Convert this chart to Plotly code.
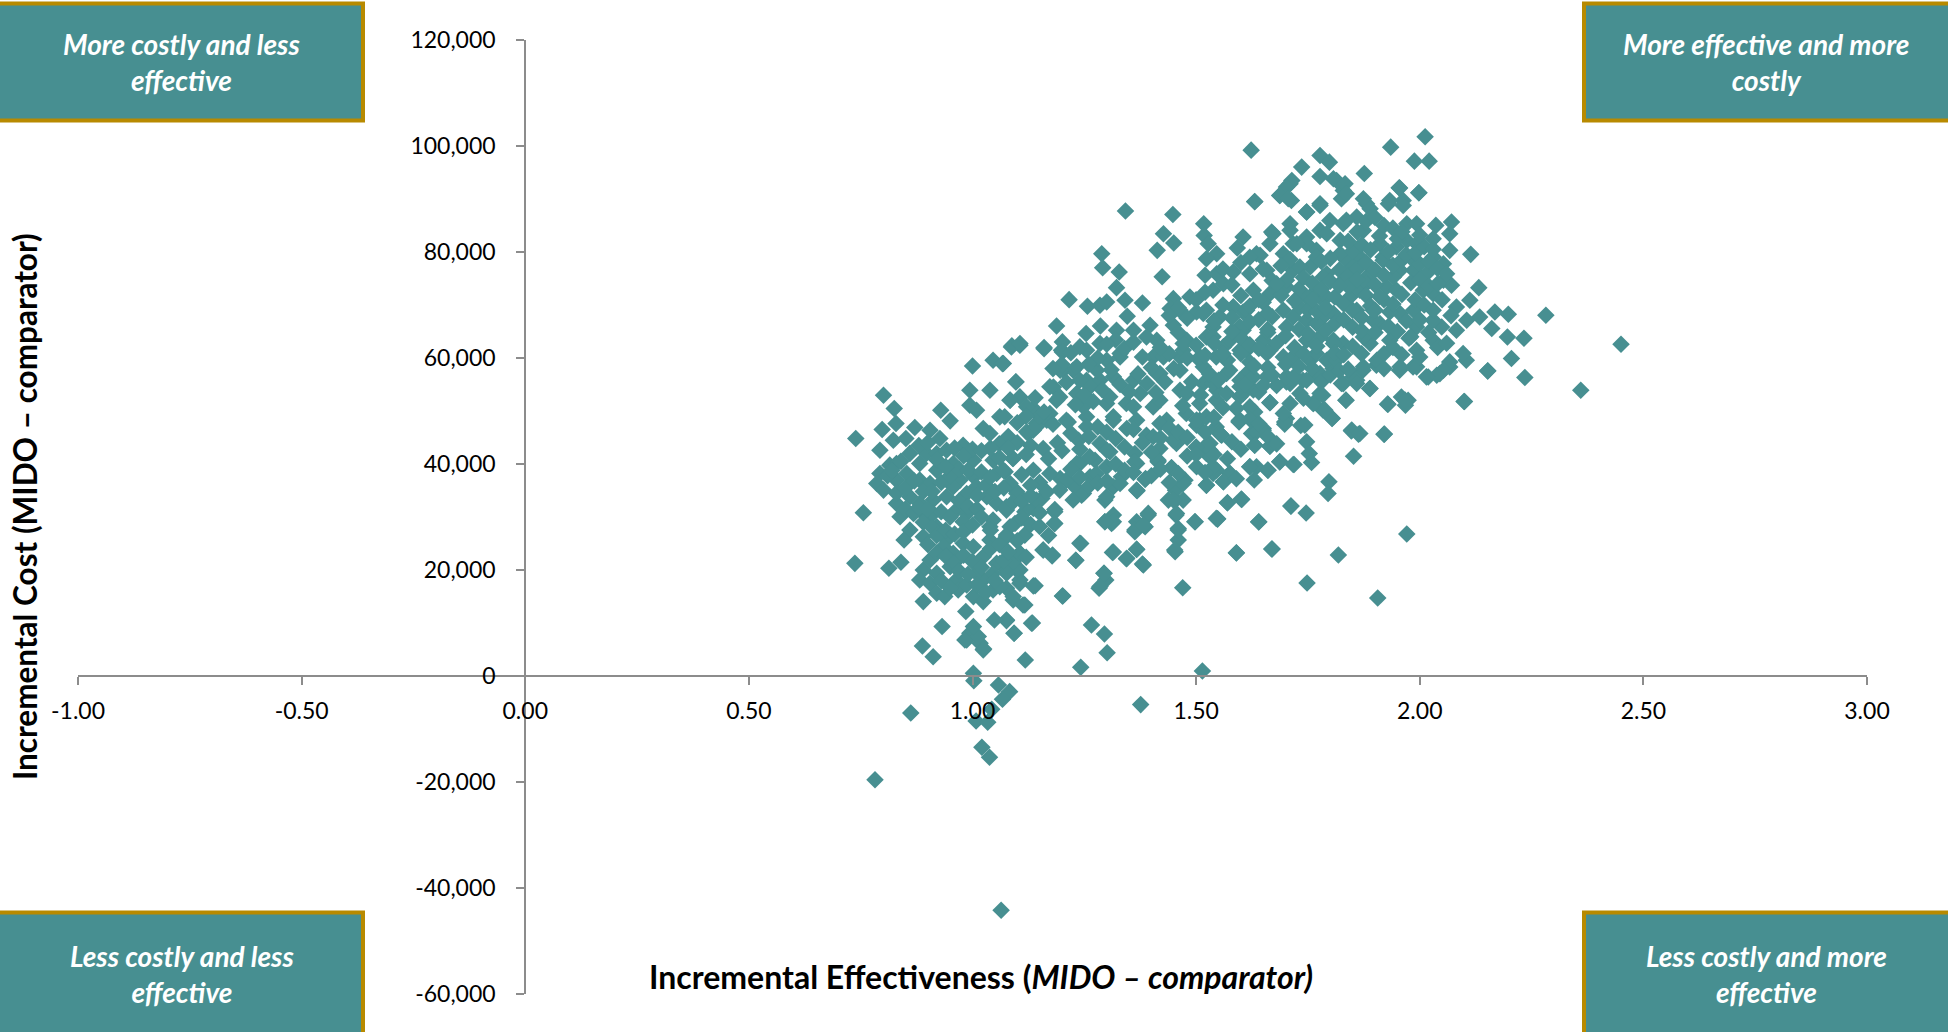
import plotly.graph_objects as go

# (incremental effectiveness, incremental cost), by region
draws_lowest = [
(.782,-19590),(.862,-6967),(.888,5656),(.912,3646),(1.002,506),(1.003,-875),(1.058,-1692),(1.083,-2950),
(1.067,-4392),(1.043,-6277),(1.008,-8474),(1.034,-8725),(1.021,-13436),(1.038,-15320),(1.064,-44208),
(1.118,3018),(1.242,1636),(1.301,4400),(1.376,-5397),(1.514,946),(1.025,5090),(.987,6786),(1.017,6158),
(1.266,9634),(1.295,7938),(1.134,10011),(1.093,8064),(1.076,10450),(1.202,15098),(1.470,16668),
(1.117,13402),(1.091,14344),(1.140,17044),(1.106,17484),(1.076,16542),(1.106,20000),(1.091,21252),
(1.106,23136),(1.0615,21252),(1.283,16542),(1.298,18112),(1.294,19367),(1.231,21817),(1.345,22194),
(1.367,23890),(1.382,20938),(1.313,23325),(1.179,22822),(1.158,23764),(1.242,25000),(1.453,23450),
(1.590,23262),(1.670,23952),(1.117,26590),(1.095,28788),(1.076,26590),(1.184,28788),(1.184,31425),
(1.296,29100),(1.315,30358),(1.311,28788),(1.363,27218),(1.386,28160),(1.367,29100),(1.393,30358),
(1.460,27845),(1.460,25648),(1.498,29100),(1.548,29604),(1.640,29100),(1.455,30358),
]
draws_centre_low = [
(1.454,33184),(1.438,33184),(1.471,33184),(1.454,35068),(1.475,36952),(1.570,32682),(1.602,33310),
(1.712,32054),(1.523,36010),(1.561,36638),(1.576,38208),(1.546,38836),(1.501,39464),(1.523,41976),
(1.531,43860),(1.557,45430),(1.620,39464),(1.635,39464),(1.661,38836),(1.687,40406),(1.717,39904),
(1.665,43358),(1.631,43546),(1.624,45744),(1.650,46372),(1.698,47500),(1.596,47942),(1.501,47314),
(1.445,39276),(1.415,40406),(1.367,40092),(1.386,37078),(1.368,34942),(1.333,37580),(1.315,35696),
(1.296,33184),(1.244,34126),(1.229,35696),(1.196,37266),(1.263,37580),(1.300,39464),(1.274,40720),
(1.240,40092),(1.307,42290),(1.285,43860),(1.237,44488),(1.214,47942),(1.136,46372),(1.125,45744),
(1.158,42918),(1.136,38836),(1.091,41034),(1.073,38522),(1.099,34754),(1.155,33498),(1.117,30986),
(1.136,31614),(1.076,31300),(1.084,28160),(1.345,46686),(1.389,45430),(1.456,43860),(1.419,42918),
(1.363,41976),
]
draws_left = [
(.801,52974),(.825,50462),(.929,50148),(.950,48140),(.739,44810),(.798,46506),(.829,47636),(.871,46882),
(.905,46380),(.927,44810),(.823,44496),(.851,44810),(.793,42612),(.815,39786),(.793,38216),(.786,36332),
(.801,35076),(.830,40100),(.853,38216),(.830,36960),(.897,41984),(.882,40100),(.920,41984),(.942,42612),
(.920,38844),(.882,36960),(.905,36332),(.957,40100),(.979,43554),(1.002,40728),(1.003,37588),(.972,36960),
(.957,35704),(.942,33820),(.830,32564),(.756,30806),(.860,33820),(.882,32564),(.912,33192),(.838,30052),
(.868,30680),(.897,30052),(.860,27540),(.890,26284),(.847,25656),(.920,28168),(.942,25656),(.912,30680),
(.964,31308),(.987,30680),(.979,29110),(.935,24400),(.957,23144),(.979,25028),(1.002,24400),(1.024,22514),
(1.054,21252),(.737,21252),(.813,20318),(.840,21448),(.890,20004),(.905,21884),(.920,19376),(.882,18120),
(.905,17492),(.950,20632),(.964,18120),(.920,15608),(.938,14980),(.890,14038),(.968,16236),(.987,17176),
(.985,12154),(1.002,14980),(1.024,14038),(1.046,16236),(1.061,16864),(1.091,14980),(1.113,13408),
(1.136,17000),(1.106,18120),(1.099,20004),(1.091,21574),(1.106,23144),(1.024,18120),(1.076,19376),
(1.009,19376),(1.046,19376),(1.032,33820),(1.054,32564),(1.046,29424),(1.039,25656),(1.076,26284),
(1.117,26598),(1.039,28168),(1.009,35704),(.987,34448),(1.099,34448),(1.084,36332),(1.054,38216),
(1.046,40728),(1.090,41042),(1.069,38844),(1.076,31936),(1.121,31308),(1.143,33192),(1.166,34762),
(1.184,30994),(1.183,28796),(1.158,23772),(1.178,22642),(1.231,21826),(1.240,25028),(1.315,23392),
(1.344,22130),(1.367,23898),(1.380,21134),(1.294,19376),(1.285,16864),(1.201,15106),(1.132,9956),
(1.076,10582),(1.049,10582),(1.093,8073),(.932,9328),(.994,8072),(.983,6816),(1.013,7444),(1.024,4932),
(1.002,9328),(1.173,38216),(1.210,36960),(1.195,35076),(1.225,33192),(1.248,34448),(1.277,38216),
(1.233,40100),(1.262,41352),(1.300,42612),(1.330,36332),(1.300,33820),(1.367,35076),(1.387,37274),
(1.363,40414),(1.415,40728),(1.445,39284),(1.471,36332),(1.449,33192),(1.456,30680),(1.497,29110),
(1.545,29738),(1.460,27540),(1.452,23772),(1.315,29110),(1.296,29110),(1.393,30680),(1.363,27540),
(1.382,28480),
]
draws_left_upper = [
(1.000,58500),(1.046,59568),(1.067,58940),(1.087,62080),(1.106,62394),(1.160,61766),(1.199,61452),
(.994,53916),(1.039,53916),(1.097,55486),(.994,51090),(1.009,50148),(1.084,52032),(1.106,52660),
(1.136,50462),(1.061,48892),(1.024,46694),(1.039,45752),(1.121,46066),(1.143,47636),(1.166,48264),
(1.181,54544),(1.203,57684),(1.225,57684),(1.255,55800),(1.195,52660),(1.248,52660),(1.210,48264),
(1.255,48892),(1.285,55800),(1.300,59568),(1.330,60196),(1.255,61452),(1.300,51404),(1.315,48892),
(1.344,51404),(1.367,48264),(1.404,50776),(1.434,48264),(1.404,45124),(1.449,44496),(1.478,49520),
(1.508,48264),(1.545,52032),(1.516,55172),(1.464,53916),(1.419,57056),(1.404,60196),(1.464,60196),
(1.508,59568),(1.545,60196),(1.531,42612),(1.538,38216),(1.545,47000),
]
draws_middle = [
(1.342,87718),(1.448,87090),(1.631,89540),(1.517,85332),(1.687,90670),(1.713,89728),(1.710,92868),
(1.427,83448),(1.450,81690),(1.413,80308),(1.289,79680),(1.291,77042),(1.328,76226),(1.424,75347),
(1.518,83134),(1.527,81564),(1.546,79680),(1.523,78738),(1.605,82820),(1.592,80748),(1.669,83762),
(1.643,79366),(1.665,81564),(1.710,85332),(1.695,79680),(1.717,81564),(1.322,73274),(1.216,71014),
(1.257,69758),(1.285,69946),(1.300,70574),(1.341,70888),(1.380,70386),(1.346,67874),(1.449,71202),
(1.486,71516),(1.442,69318),(1.464,68988),(1.520,75598),(1.546,75912),(1.583,76226),(1.620,75912),
(1.538,72772),(1.561,74028),(1.628,72772),(1.665,72144),(1.702,73400),(1.717,76540),(1.188,66052),
(1.286,66052),(1.397,66178),(1.449,66178),(1.501,68690),(1.523,69004),(1.583,69632),(1.605,68690),
(1.695,69004),(1.717,67748),(1.088,62284),(1.106,62724),(1.160,61970),(1.201,63038),(1.201,61154),
(1.254,64608),(1.322,65236),(1.360,65236),(1.412,63352),(1.479,63352),(1.538,65864),(1.605,65236),
(1.650,63352),(1.702,65864),(1.240,62096),(1.285,62724),(1.330,60840),(1.389,63980),(1.427,60212),
(1.471,61468),(1.523,63980),(1.561,62096),(1.598,61468),(1.658,60840),(1.695,60212),(1.069,58956),
(1.097,55502),(1.196,57700),(1.233,58328),(1.278,57700),(1.315,56444),(1.173,54560),(1.233,53304),
(1.263,54560),(1.360,55816),(1.412,57072),(1.464,57700),(1.516,58328),(1.568,57072),(1.613,57072),
(1.710,55186),(1.084,52048),(1.121,50792),(1.188,52048),(1.072,48908),(1.143,47024),(1.173,49536),
(1.248,50792),(1.255,47024),(1.307,52676),(1.315,48280),(1.360,50792),(1.375,53304),(1.419,52048),
(1.419,47652),(1.479,53304),(1.501,48280),(1.546,53932),(1.598,52676),(1.598,48280),(1.665,51546),
(1.635,46396),(1.702,48594),(1.553,45768),
]
draws_lower_right = [
(2.152,57556),(2.099,51779),(1.835,52030),(1.929,51276),(1.959,52658),(1.974,52030),(1.968,51088),
(1.847,46252),(1.863,45624),(1.920,45624),(1.852,41480),(1.804,48639),(1.734,47257),(1.698,47948),
(1.747,44180),(1.753,41982),(1.758,40286),(1.719,39910),(1.687,40412),(1.660,38842),(1.620,39470),
(1.797,36644),(1.795,34446),(1.712,32060),(1.746,30740),(1.601,33378),(1.570,32688),(1.548,29673),
(1.640,29045),(1.971,26784),(1.590,23205),(1.669,23958),(1.818,22828),(1.748,17553),(1.906,14727),
(1.596,48136),(1.555,45562),(1.665,51590),(1.631,49832),(1.702,55484),(1.635,46064),(1.650,46692),
(1.665,43364),(1.631,43552),(1.783,52972),(1.762,51402),(1.784,50146),(1.732,53286),(1.710,51402),
(1.695,49518),(1.739,55798),(1.769,57054),(1.806,57996),(1.829,55170),(1.859,55798),(1.888,54228),
(1.873,57682),(1.903,58624),(1.955,57682),(1.985,58310),(2.019,56426),(2.045,57054),(2.067,58310),
(2.104,59566),(1.575,38214),(1.561,36644),(1.523,36016),(1.531,41354),(1.523,43552),(1.538,39470),
(1.628,56426),(1.605,53286),(1.598,55798),(1.568,53286),(1.538,55170),(1.575,57682),(1.620,50774),
(1.523,48890),(1.508,51402),
]
draws_right = [
(2.360,53932),(2.282,68062),(2.114,79554),(2.132,73274),(2.198,68250),(2.168,68690),(2.233,63729),
(2.196,63980),(2.161,65550),(2.205,59898),(2.235,56318),(2.152,57574),(2.100,51797),(1.967,52048),
(1.928,51294),(1.804,48594),(1.848,46396),(1.866,45768),(1.921,45640),(1.835,52048),(1.955,92052),
(1.998,91172),(2.071,85646),(2.036,85018),(2.067,83448),(2.030,82506),(2.067,80308),(2.053,77796),
(2.030,79052),(2.071,73714),(2.053,74656),(2.030,72144),(2.112,70888),(2.082,69632),(2.134,67748),
(2.105,67120),(2.082,65236),(2.049,65864),(2.030,67120),(2.030,63352),(1.993,65864),(1.956,68376),
(1.986,69004),(1.933,68690),(1.911,66492),(1.896,67120),(1.933,63352),(1.976,63729),(1.889,62724),
(1.874,63980),(2.097,60840),(2.067,59268),(2.053,57700),(2.038,56758),(2.015,56444),(1.993,58328),
(1.956,58328),(1.993,61468),(1.904,59584),(1.874,58328),(1.851,56444),(1.825,55186),(1.859,55186),
(1.889,54246),(1.777,53304),(1.762,51402),(1.788,50164),(1.743,47338),(1.807,63352),(1.829,62724),
(1.777,63980),(1.755,59584),(1.792,59584),(1.814,59584),(1.747,55816),(1.777,57072),(1.747,67120),
(1.784,67748),(1.807,68376),(1.747,71516),(1.777,71516),(1.792,75912),(1.755,77168),(1.769,80308),
(1.747,82820),(1.777,84076),(1.799,85960),(1.822,82192),(1.836,78424),(1.829,74656),(1.844,71516),
(1.829,85332),(1.859,86588),(1.881,89100),(1.829,91612),(1.814,93496),(1.777,89100),(1.747,87530),
(1.874,84076),(1.866,79052),(1.881,75284),(1.866,72772),(1.859,68988),(1.911,81564),(1.918,79052),
(1.948,80936),(1.971,85332),(1.993,85332),(1.933,89728),(1.963,89728),(1.971,82192),(1.993,81564),
(1.956,76540),(1.926,73400),(1.948,72772),(1.986,76540),(2.015,75912),(2.008,72772),(1.896,68988),
]
draws_top = [
(2.012,101730),(1.935,99783),(1.623,99218),(1.777,98213),(1.798,96957),(1.988,97145),(2.021,97145),
(1.736,96015),(1.876,94822),(1.777,94256),(1.807,93817),(1.833,92875),(1.714,93503),(1.702,92247),
(1.687,90677),(1.706,90049),(1.631,89484),(1.954,92122),(1.998,91179),(1.825,90049),(1.836,90991),
(1.874,90049),(1.777,88793),(1.747,87537),(1.930,89107),(1.963,88793),(1.889,88165),(1.822,79687),
(1.851,77175),(1.881,74035),(1.918,78431),(1.941,75291),(1.784,75291),(1.762,72151),(1.792,71523),
(1.732,69639),(1.769,66499),(1.747,63359),(1.807,62731),(1.769,60847),(1.717,60219),(1.702,56459),
(1.665,61475),(1.732,77175),(1.702,74663),(1.658,76547),(1.635,79687),(1.672,83455),(1.710,84083),
(1.747,81571),(1.769,79059),(1.725,81571),(1.792,83455),(1.836,85967),(1.583,69639),(1.613,69011),
(1.553,67755),(1.516,68383),(1.538,63987),(1.598,65871),(1.576,63359),(1.509,60219),(1.568,59591),
(1.471,62731),(1.613,61475),(1.658,56459),(1.598,54575),(1.628,53947),
(2.45,62600),
]
draws_dense_right = [
(1.73,73000),(1.74,75200),(1.76,74100),(1.78,73000),(1.80,74500),(1.82,76600),(1.84,75400),(1.86,76800),
(1.88,78000),(1.90,76600),(1.92,75600),(1.94,77500),(1.96,78500),(1.98,78900),(2.00,77800),(2.02,78200),
(2.04,76900),(2.06,75900),(1.85,80200),(1.87,81400),(1.89,80400),(1.91,83000),(1.93,80000),(1.95,82500),
(1.97,79500),(1.99,79800),(2.01,81000),(2.03,80500),(1.84,73500),(1.86,74800),(1.88,71800),(1.90,73800),
(1.92,71000),(1.94,70200),(1.96,72000),(1.98,74200),(2.00,74800),(2.02,73600),(2.04,74000),(1.81,71500),
(1.83,70200),(1.85,69000),(1.87,67600),(1.89,69800),(1.91,71600),(1.93,66000),(1.95,65000),(1.97,67000),
(1.99,71000),(2.01,70000),(2.03,69000),(2.05,71000),(2.07,68000),(1.75,69000),(1.77,68800),(1.79,69500),
(1.81,66500),(1.83,67200),(1.85,65800),(1.87,65200),(1.73,65400),(1.75,64600),(1.77,62200),(1.79,65200),
(1.81,61000),(1.83,60600),(1.85,62200),(1.87,60800),(1.72,62000),(1.74,60800),(1.76,58000),(1.78,55500),
(1.80,56800),(1.82,57600),(1.84,57900),(1.72,70800),(1.71,78600),(1.69,77400),(1.67,74600),(1.65,70500),
(1.67,67800),(1.69,71800),(1.64,67200),(1.66,64800),(1.68,62800),(1.70,64200),(1.66,58200),(1.68,54800),
(1.64,53600),(1.62,59200),(1.60,63800),(1.62,66800),(1.70,58800),(1.72,56600),(1.74,52400),(1.73,58400),
(1.90,64800),(1.92,60800),(1.94,62000),(1.96,60600),(1.98,64000),(2.00,67200),(2.02,64800),(2.04,62000),
(2.06,62800),(2.00,60200),(1.92,58000),(1.90,69000),(1.88,85800),(1.90,86500),(1.92,85000),(1.94,84500),
(1.96,83800),(2.00,83200),(1.80,78800),(1.82,73600),(1.84,82000),(1.86,83800),(1.78,78200),(1.76,71000),
]
draws_dense_centre = [
(1.21,55400),(1.23,51200),(1.25,53000),(1.27,51800),(1.29,54000),(1.31,57800),(1.33,55000),(1.35,53600),
(1.37,57000),(1.39,55200),(1.41,53500),(1.43,55500),(1.45,58000),(1.47,51000),(1.49,55500),(1.51,53000),
(1.53,57000),(1.55,55800),(1.57,59600),(1.59,50500),(1.61,55000),(1.63,58500),(1.65,54800),(1.67,56800),
(1.22,45800),(1.24,42800),(1.26,45200),(1.28,47000),(1.30,46000),(1.32,44800),(1.34,43200),(1.36,46500),
(1.38,44000),(1.40,42200),(1.42,44900),(1.44,46800),(1.46,46000),(1.48,45000),(1.50,43200),(1.52,46000),
(1.54,48800),(1.56,50600),(1.58,44200),(1.60,42800),(1.62,48500),(1.64,47600),(1.66,45200),(1.68,43800),
(1.19,44000),(1.17,41000),(1.15,36500),(1.13,36000),(1.11,38000),(1.13,43500),(1.15,49000),(1.18,47500),
(1.20,42500),(1.22,39000),(1.24,37500),(1.26,35800),(1.28,36400),(1.30,36800),(1.32,40000),(1.34,38800),
(1.36,38400),(1.40,37800),(1.42,39000),(1.44,36500),(1.46,38200),(1.48,41500),(1.50,41800),(1.54,41800),
(1.57,41000),(1.59,37200),(1.63,37000),(1.52,38400),(1.44,60800),(1.42,62000),(1.46,64800),(1.48,60000),
(1.50,62400),(1.52,60500),(1.54,62800),(1.56,60800),(1.58,65000),(1.60,60800),(1.62,62500),(1.64,61800),
(1.66,65400),(1.34,61800),(1.36,63000),(1.38,60200),(1.40,58200),(1.32,63400),(1.30,62600),(1.28,60000),
(1.26,58800),(1.24,55800),(1.22,61000),(1.20,58800),(1.18,58000),(1.16,49800),(1.14,52500),(1.12,49000),
(1.10,47800),(1.08,45200),(1.06,43800),(1.04,43000),(1.10,44000),(1.12,41800),(1.48,67500),(1.46,69500),
(1.44,68000),(1.54,67000),(1.56,70000),(1.58,67600),(1.60,71800),(1.62,69800),(1.64,71000),(1.66,68500),
(1.68,74000),(1.60,78000),(1.62,79000),(1.65,76800),(1.58,73800),(1.56,76800),(1.50,71000),(1.52,72400),
]
draws_dense_left = [
(.81,37800),(.83,34500),(.85,35500),(.87,36800),(.89,34800),(.91,34800),(.93,36500),(.95,37800),(.97,39000),
(.99,38800),(.82,38800),(.84,40500),(.86,42000),(.88,43500),(.90,44000),(.92,40800),(.94,39500),(.96,43000),
(.85,31500),(.87,30800),(.89,29000),(.91,28000),(.93,31000),(.95,30000),(.97,33000),(.99,32000),(1.01,31500),
(.88,31800),(.90,31500),(.92,26500),(.94,27500),(.96,26800),(.98,27200),(1.00,28500),(1.02,30000),(1.04,27500),
(.90,24800),(.92,23200),(.94,22600),(.96,21400),(.98,22800),(1.00,21600),(1.02,20500),(1.04,24000),(1.06,24800),
(.93,18000),(.95,16600),(.97,19800),(.99,19200),(1.01,17200),(1.03,15800),(1.05,18000),(1.07,21800),(1.08,23400),
(1.01,34000),(1.03,36000),(1.05,34800),(1.07,35500),(1.09,32800),(1.11,29800),(1.13,28600),(1.15,28200),(1.11,33000),
(1.13,34000),(1.15,30800),(1.17,26500),(1.10,25500),(1.12,22400),(1.02,38500),(1.00,42800),(.98,41500),(1.02,42500),
(1.04,37500),(1.06,41200),(1.08,43000),
]

regions = [draws_lowest, draws_centre_low, draws_left, draws_left_upper, draws_middle,
           draws_lower_right, draws_right, draws_top, draws_dense_right,
           draws_dense_centre, draws_dense_left]
effectiveness = [p[0] for r in regions for p in r]
cost = [p[1] for r in regions for p in r]

x_ticks = [-1.0, -0.5, 0.0, 0.5, 1.0, 1.5, 2.0, 2.5, 3.0]
y_ticks = [-60000, -40000, -20000, 0, 20000, 40000, 60000, 80000, 100000, 120000]
quadrant_labels = ["More costly and less<br>effective", "More effective and more<br>costly",
                   "Less costly and less<br>effective", "Less costly and more<br>effective"]

TEAL = "#478F91"
GOLD = "#B88A00"
AXIS = "#8C8C8C"
FONT = "Lato"
W, H = 1948, 1032
L, R, T, B = 78, 1867, 39.5, 994.5

fig = go.Figure(go.Scatter(
    x=effectiveness, y=cost, mode="markers",
    marker=dict(symbol="diamond", size=13.5, color=TEAL, line=dict(width=0)),
    cliponaxis=False, hoverinfo="skip"))


def box(x0, y0, x1, y1, text):
    fig.add_shape(type="rect", xref="paper", yref="paper", layer="above",
                  x0=(x0 - L) / (R - L), x1=(x1 - L) / (R - L),
                  y0=(B - y1) / (B - T), y1=(B - y0) / (B - T),
                  fillcolor=TEAL, line=dict(color=GOLD, width=4))
    fig.add_annotation(xref="paper", yref="paper", showarrow=False,
                       x=((min(x1, W) + max(x0, 0)) / 2 - L) / (R - L),
                       y=(B - (y0 + y1) / 2) / (B - T),
                       xanchor="center", yanchor="middle",
                       text=f"<b><i>{text}</i></b>", align="center",
                       font=dict(family=FONT, size=28, color="white"))


box(-4, 3, 363, 120, quadrant_labels[0])
box(1584, 3, 1952, 120, quadrant_labels[1])
box(-4, 913, 363, 1036, quadrant_labels[2])
box(1584, 913, 1952, 1036, quadrant_labels[3])

fig.add_annotation(xref="paper", yref="paper", showarrow=False,
                   xanchor="center", yanchor="middle",
                   x=(981 - L) / (R - L), y=(B - 977) / (B - T),
                   text="<b>Incremental Effectiveness (<i>MIDO – comparator)</i></b>",
                   font=dict(family=FONT, size=32, color="black"))
fig.add_annotation(xref="paper", yref="paper", showarrow=False, textangle=-90,
                   xanchor="center", yanchor="middle",
                   x=(25 - L) / (R - L), y=(B - 507) / (B - T),
                   text="<b>Incremental Cost (MIDO – comparator)</b>",
                   font=dict(family=FONT, size=31.5, color="black"))

fig.update_layout(
    width=W, height=H, autosize=False, showlegend=False,
    paper_bgcolor="white", plot_bgcolor="white",
    margin=dict(l=L, r=W - R, t=T, b=H - B, pad=0),
    font=dict(family=FONT, size=23, color="black"),
    xaxis=dict(range=[-1, 3], tickvals=x_ticks, ticktext=[f"{v:.2f}" for v in x_ticks],
               anchor="free", position=1 / 3, showgrid=False, zeroline=False,
               showline=True, linecolor=AXIS, linewidth=2, ticklabelstandoff=6,
               ticks="outside", ticklen=8, tickwidth=2, tickcolor=AXIS),
    yaxis=dict(range=[-60000, 120000], tickvals=y_ticks, ticktext=[f"{v:,}" for v in y_ticks],
               anchor="free", position=0.25, showgrid=False, zeroline=False,
               showline=True, linecolor=AXIS, linewidth=2, ticklabelstandoff=16,
               ticks="outside", ticklen=8, tickwidth=2, tickcolor=AXIS),
)

fig.write_html("out.html", config={"displayModeBar": False},
               post_script="document.body.style.margin='0';document.body.style.overflow='hidden';")
